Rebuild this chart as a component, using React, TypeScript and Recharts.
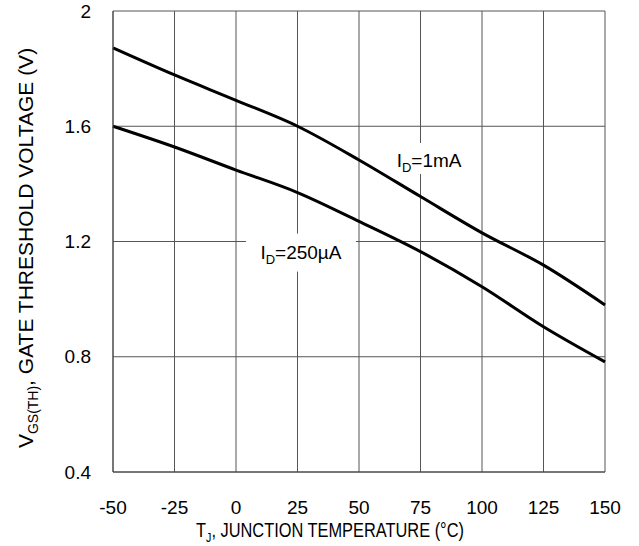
import { CartesianGrid, Line, LineChart, ReferenceDot, XAxis, YAxis } from "recharts";

const temps = [-50, -25, 0, 25, 50, 75, 100, 125, 150];
const vth1mA = [1.872, 1.778, 1.69, 1.6, 1.483, 1.356, 1.23, 1.118, 0.98];
const vth250uA = [1.6, 1.528, 1.448, 1.37, 1.27, 1.165, 1.043, 0.904, 0.782];
const xTicks = [-50, -25, 0, 25, 50, 75, 100, 125, 150];
const yTicks = [0.4, 0.8, 1.2, 1.6, 2];

const data = temps.map((t, i) => ({ t, a: vth1mA[i], b: vth250uA[i] }));

const FONT = "'Liberation Sans', Arial, sans-serif";

// curve label with a white box that hides the grid behind it
const SubLabel =
  (main: string, sub: string, rest: string, w: number, up: number, down: number) =>
  (props: any) => {
    const { cx, cy } = props;
    return (
      <g>
        <rect x={cx - w / 2} y={cy - up} width={w} height={up + down} fill="#fff" />
        <text x={cx} y={cy + 7} textAnchor="middle" fontFamily={FONT} fontSize={19} fill="#000">
          {main}
          <tspan fontSize={13} dy={5}>{sub}</tspan>
          <tspan dy={-5}>{rest}</tspan>
        </text>
      </g>
    );
  };

export default function App() {
  return (
    <div style={{ position: "absolute", left: 0, top: 0, background: "#fff" }}>
      <LineChart
        width={639}
        height={546}
        data={data}
        margin={{ top: 11, right: 34, bottom: 44, left: 0 }}
      >
        <CartesianGrid stroke="#555" strokeWidth={1} />
        <XAxis
          dataKey="t"
          type="number"
          domain={[-50, 150]}
          ticks={xTicks}
          height={30}
          tickLine={false}
          axisLine={{ stroke: "#444" }}
          tickMargin={23}
          tick={{ fill: "#000", fontSize: 19, fontFamily: FONT }}
        />
        <YAxis
          type="number"
          domain={[0.4, 2]}
          ticks={yTicks}
          width={113}
          tickLine={false}
          axisLine={{ stroke: "#444" }}
          tickMargin={16}
          tickFormatter={(v: number) => String(Number(v.toFixed(1)))}
          tick={{ fill: "#000", fontSize: 19, fontFamily: FONT }}
        />
        <Line
          dataKey="a"
          type="monotone"
          stroke="#000"
          strokeWidth={3}
          dot={false}
          isAnimationActive={false}
        />
        <Line
          dataKey="b"
          type="monotone"
          stroke="#000"
          strokeWidth={3}
          dot={false}
          isAnimationActive={false}
        />
        <ReferenceDot x={78.5} y={1.483} r={0} shape={SubLabel("I", "D", "=1mA", 80, 17, 14)} />
        <ReferenceDot x={26.4} y={1.165} r={0} shape={SubLabel("I", "D", "=250µA", 110, 18, 20)} />
      </LineChart>
      <svg
        width={639}
        height={546}
        style={{ position: "absolute", left: 0, top: 0, pointerEvents: "none" }}
      >
        <text
          transform="translate(330,537) scale(0.82,1)"
          textAnchor="middle"
          fontFamily={FONT}
          fontSize={20}
          fill="#000"
        >
          T<tspan fontSize={13} dy={5}>J</tspan>
          <tspan dy={-5}>, JUNCTION TEMPERATURE (°C)</tspan>
        </text>
        <text
          transform="translate(33,248) rotate(-90)"
          textAnchor="middle"
          fontFamily={FONT}
          fontSize={21}
          fill="#000"
        >
          V<tspan fontSize={14} dy={5}>GS(TH)</tspan>
          <tspan dy={-5}>, GATE THRESHOLD VOLTAGE (V)</tspan>
        </text>
      </svg>
    </div>
  );
}
